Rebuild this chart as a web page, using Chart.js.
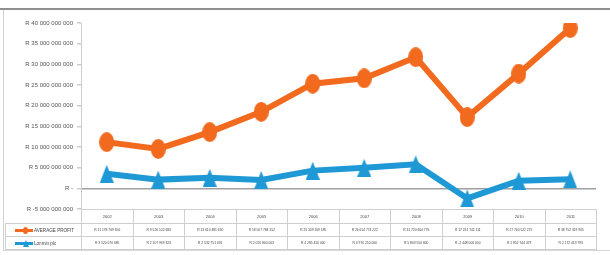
<!DOCTYPE html>
<html>
<head>
<meta charset="utf-8">
<script src="https://cdn.jsdelivr.net/npm/chart.js@4"></script>
<style>
    html, body { margin: 0; padding: 0; background: #fff; }
    #wrap { position: relative; width: 610px; height: 255px; overflow: hidden; font-family: 'Liberation Sans', Arial, sans-serif; }
    #frame { position: absolute; left: 3px; top: 8px; width: 620px; height: 243px; border-top: 2px solid #8f8f8f; border-left: 1px solid #d0d0d0; border-bottom: 1px solid #d8d8d8; box-sizing: border-box; }
    #topline { position: absolute; left: 0; top: 8px; width: 610px; height: 2px; background: #8f8f8f; }
    canvas { position: absolute; left: 0; top: 0; }
    #data-table { position: absolute; border-collapse: collapse; table-layout: fixed; font-size: 3.3px; color: #444; }
    #data-table td { border: 1px solid #cfcfcf; text-align: center; padding: 0; white-space: nowrap; overflow: hidden; }
    #data-table td.year { font-size: 4px; }
    #data-table td.key { text-align: left; padding-left: 9px; font-size: 4.6px; }
    .swatch { display: inline-block; position: relative; width: 18px; height: 3px; vertical-align: middle; margin-right: 1px; }
    .swatch i { position: absolute; left: 8px; top: -2px; width: 5px; height: 7px; }
</style>
</head>
<body>
<div id="wrap">
    <div id="frame"></div>
    <div id="topline"></div>
    <canvas id="profit-chart" width="610" height="255"></canvas>
    <table id="data-table"></table>
</div>
<script>
const years = ['2002', '2003', '2004', '2005', '2006', '2007', '2008', '2009', '2010', '2011'];
const averageProfit = [11178769656, 9526102683, 13610481650, 18507784152, 25309269585, 26614774222, 31720664776, 17231742111, 27760522275, 38752319965];
const lonmin = [3520070685, 2107969324, 2532751091, 2020840003, 4285410000, 4970250000, 5803550800, -2448000000, 1852744479, 2172413793];
const seriesNames = ['AVERAGE PROFIT', 'Lonmin plc'];
const yMin = -5000000000;
const yMax = 40000000000;
const yStep = 5000000000;

const orange = '#F26A1E';
const blue = '#1F99D5';

// format numbers like the excel currency format: R 11 178 769 656
const rand = (v) => {
    if (v === 0) return 'R -';
    const s = Math.abs(Math.round(v)).toString().replace(/\B(?=(\d{3})+(?!\d))/g, ' ');
    return 'R ' + (v < 0 ? '-' : '') + s;
};

// the picture is stretched a little vertically, so markers are drawn as tall shapes
const makeMarker = (shape, color, w, h) => {
    const c = document.createElement('canvas');
    c.width = w;
    c.height = h;
    const g = c.getContext('2d');
    g.fillStyle = color;
    g.beginPath();
    if (shape === 'ellipse') {
        g.ellipse(w / 2, h / 2, w / 2, h / 2, 0, 0, Math.PI * 2);
    } else {
        g.moveTo(w / 2, 0);
        g.lineTo(w, h);
        g.lineTo(0, h);
        g.closePath();
    }
    g.fill();
    return c;
};

const chart = new Chart(document.getElementById('profit-chart'), {
    type: 'line',
    data: {
        labels: years,
        datasets: [{
            label: seriesNames[0],
            data: averageProfit,
            borderColor: orange,
            backgroundColor: orange,
            borderWidth: 6,
            pointStyle: makeMarker('ellipse', orange, 15, 20),
            pointRadius: 8,
            tension: 0
        }, {
            label: seriesNames[1],
            data: lonmin,
            borderColor: blue,
            backgroundColor: blue,
            borderWidth: 6,
            pointStyle: makeMarker('triangle', blue, 14, 18),
            pointRadius: 8,
            tension: 0
        }]
    },
    options: {
        responsive: false,
        animation: false,
        layout: { padding: { top: 23, bottom: 46, left: 0, right: 10 } },
        plugins: {
            legend: { display: false },
            tooltip: { enabled: false }
        },
        scales: {
            x: {
                display: false,
                offset: true
            },
            y: {
                min: yMin,
                max: yMax,
                afterFit: (scale) => { scale.width = 81; },
                ticks: {
                    stepSize: yStep,
                    color: '#555',
                    padding: 4,
                    font: { family: "'Liberation Sans', Arial, sans-serif", size: 6 },
                    callback: (v) => rand(v)
                },
                grid: {
                    color: (ctx) => ctx.tick && ctx.tick.value === 0 ? '#a0a0a0' : 'rgba(0,0,0,0)',
                    lineWidth: 1.5,
                    tickColor: '#cccccc',
                    tickLength: 4
                },
                border: { display: true, color: '#cccccc', width: 1 }
            }
        }
    }
});

// data table under the plot, columns lined up with the category slots
const buildTable = () => {
    const area = chart.chartArea;
    const table = document.getElementById('data-table');
    const colW = (area.right - area.left) / years.length;
    const keyLeft = 5;
    table.style.left = keyLeft + 'px';
    table.style.top = Math.round(area.bottom) + 'px';
    table.style.width = (area.right - keyLeft) + 'px';

    let html = '<colgroup><col style="width:' + (area.left - keyLeft) + 'px">';
    years.forEach(() => { html += '<col style="width:' + colW + 'px">'; });
    html += '</colgroup>';

    html += '<tr style="height:14px"><td style="border-top:none;border-left:none"></td>';
    years.forEach((y) => { html += '<td class="year">' + y + '</td>'; });
    html += '</tr>';

    const rows = [[averageProfit, orange], [lonmin, blue]];
    rows.forEach(([vals, color], i) => {
        const marker = i === 0
            ? '<i style="background:' + color + ';border-radius:50%"></i>'
            : '<i style="width:0;height:0;background:none;border-left:3px solid transparent;border-right:3px solid transparent;border-bottom:7px solid ' + color + '"></i>';
        html += '<tr style="height:13px"><td class="key"><span class="swatch" style="background:' + color + '">' + marker + '</span>' + seriesNames[i] + '</td>';
        vals.forEach((v) => { html += '<td>' + rand(v) + '</td>'; });
        html += '</tr>';
    });
    table.innerHTML = html;
};
buildTable();
</script>
</body>
</html>
